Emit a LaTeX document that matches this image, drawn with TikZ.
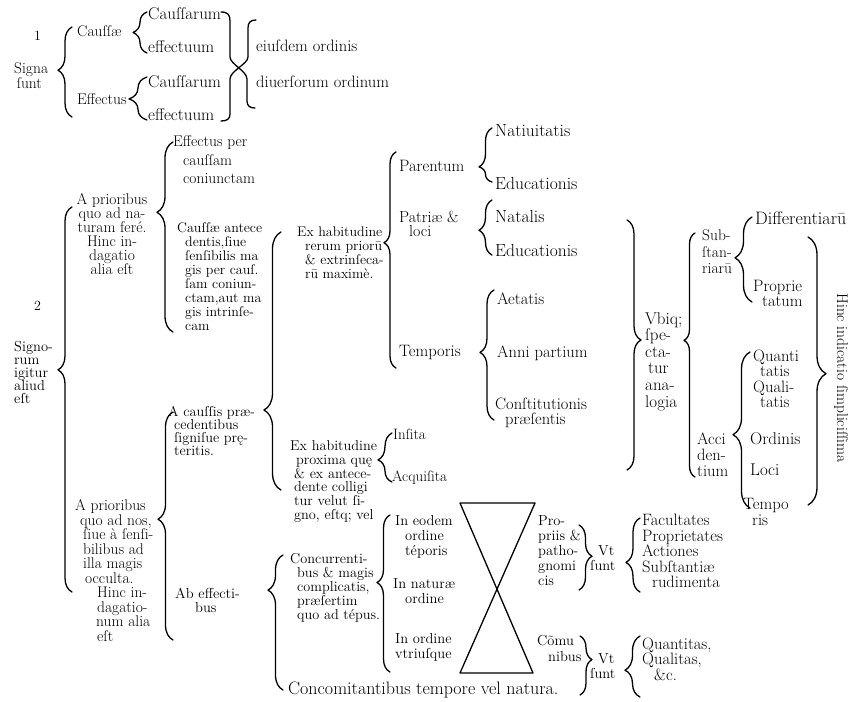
\documentclass[tikz,border=0pt]{standalone}
\usepackage{fontspec}
\usetikzlibrary{decorations.pathreplacing}
\newcommand\inkfont{\addfontfeature{FakeBold=6}}
\lineskiplimit=-100pt
\tikzset{
  lbl/.style 2 args={inner sep=0pt, anchor=north west, align=left,
    font=\fontsize{#1}{#2}\selectfont\inkfont, yshift={0.468*#1}},
  ink/.style={line width=1.3pt},
  brc/.style 2 args={decorate, decoration={brace, amplitude=#1pt, aspect=#2}},
  every picture/.style={line cap=round, line join=round}
}

\begin{document}
\begin{tikzpicture}[x=1pt, y=-1pt]
    \path[use as bounding box, fill=white] (0,0) rectangle (861,701);

    % signa sunt
    \node[lbl={14}{14}] (one) at (34,38) {1};
    \node[lbl={15.5}{15}] (signa) at (14,70) {Signa\\\,ſunt};
    \node[lbl={15.5}{15}] (cae) at (77,33) {Cauſſæ};
    \node[lbl={15.5}{15}] (eff) at (77,101) {Effectus};
    \node[lbl={17}{15}] (ca1) at (148,15) {Cauſſarum};
    \node[lbl={17}{15}] (ef1) at (148,48) {effectuum};
    \node[lbl={17}{15}] (ca2) at (148,83) {Cauſſarum};
    \node[lbl={17}{15}] (ef2) at (148,116) {effectuum};
    \node[lbl={16.5}{15}] (eiu) at (256,47) {eiuſdem ordinis};
    \node[lbl={16.5}{15}] (diu) at (256,83) {diuerſorum ordinum};

    \draw[ink,brc={14}{0.52}] (72,117) -- (72,27);
    \draw[ink,brc={14}{0.5}] (147,53) -- (147,12);
    \draw[ink,brc={18}{0.49}] (147,120) -- (147,77);

    \draw[ink] (221,12) .. controls (228,12) and (230,15) .. (230,21) -- (230,57)
      .. controls (230,64) and (247,71) .. (247,79) -- (247,101)
      .. controls (247,106) and (250,108) .. (255,108);
    \draw[ink] (256,20) .. controls (250,20) and (248,23) .. (248,28) -- (248,57)
      .. controls (248,64) and (230,71) .. (230,79) -- (230,114)
      .. controls (230,119) and (227,121) .. (221,121);

    % signorum igitur
    \node[lbl={14}{14}] (two) at (34,308) {2};
    \node[lbl={14.5}{13}] (sig2) at (14,348) {Signo-\\rum\\igitur\\aliud\\eſt};
    \draw[ink,brc={14}{0.577}] (72,592) -- (72,207);

    \node[lbl={15.5}{14},anchor=north,align=center] (pr1) at (112,201)
      {A prioribus\\quo ad na-\\turam feré.\\Hinc in-\\dagatio\\alia eſt};
    \draw[ink,brc={16}{0.63}] (173,332) -- (173,142);

    \node[lbl={15.5}{18.5}] (ep) at (173,143)
      {Effectus per\\\hspace*{10pt}cauſſam\\\hspace*{10pt}coniunctam};
    \node[lbl={14}{14}] (ca) at (177,229)
      {Cauſſæ antece\\\hspace*{8pt}dentis,ſiue\\\hspace*{8pt}ſenſibilis ma\\\hspace*{8pt}gis per cauſ.\\\hspace*{8pt}ſam coniun-\\\hspace*{8pt}ctam,aut ma\\\hspace*{8pt}gis intrinſe-\\\hspace*{8pt}cam};

    \draw[ink,brc={17}{0.31}] (281,490) -- (281,232);
    \node[lbl={14}{14}] (ex1) at (297,233)
      {Ex habitudine\\\hspace*{8pt}rerum priorū\\\hspace*{8pt}\& extrinſeca-\\\hspace*{8pt}rū maximè.};
    \draw[ink,brc={12}{0.58}] (396,368) -- (396,152);

    \node[lbl={16.5}{14.5}] (par) at (399,168) {Parentum};
    \node[lbl={16}{14.5}] (pat) at (399,218) {Patriæ \&\\\hspace*{10pt}loci};
    \node[lbl={16.5}{14.5}] (tem) at (399,353) {Temporis};

    \draw[ink,brc={13}{0.28}] (492,182) -- (492,128);
    \node[lbl={17.5}{15}] (nat) at (495,133) {Natiuitatis};
    \node[lbl={17.5}{15}] (edu1) at (495,185) {Educationis};
    \draw[ink,brc={13}{0.45}] (492,255) -- (492,200);
    \node[lbl={17.5}{15}] (nal) at (495,218) {Natalis};
    \node[lbl={17.5}{15}] (edu2) at (495,252) {Educationis};
    \draw[ink,brc={14}{0.52}] (494,420) -- (494,290);
    \node[lbl={16.5}{15}] (aet) at (497,300) {Aetatis};
    \node[lbl={16.5}{15}] (ann) at (497,353) {Anni partium};
    \node[lbl={16.5}{15}] (con) at (495,405) {Conſtitutionis\\\hspace*{10pt}præſentis};

    \node[lbl={14.3}{13}] (acp) at (168,413)
      {A cauſſis præ-\\\hspace*{6pt}cedentibus\\\hspace*{6pt}ſigniſue prę-\\\hspace*{6pt}teritis.};
    \node[lbl={15.5}{14.5}] (pr2) at (75,507)
      {A prioribus\\\hspace*{5pt}quo ad nos,\\\hspace*{8pt}ſiue à ſenſi-\\\hspace*{8pt}bilibus ad\\\hspace*{8pt}illa magis\\\hspace*{10pt}occulta.\\\hspace*{22pt}Hinc in-\\\hspace*{22pt}dagatio-\\\hspace*{21pt}num alia\\\hspace*{22pt}eſt};
    \draw[ink,brc={15}{0.53}] (173,640) -- (173,412);
    \node[lbl={14.5}{14}] (abe) at (175,595) {Ab effecti-\\\hspace*{20pt}bus};

    \node[lbl={14.3}{13.8}] (ex2) at (290,447)
      {Ex habitudine\\\hspace*{6pt}proxima quę\\\hspace*{4pt}\& ex antece-\\\hspace*{4pt}dente colligi\\\hspace*{4pt}tur velut ſi-\\\hspace*{4pt}gno, eſtq; vel};
    \draw[ink,brc={14}{0.45}] (392,482) -- (392,433);
    \node[lbl={15}{15}] (ins) at (393,436) {Inſita};
    \node[lbl={15}{15}] (acq) at (392,478) {Acquiſita};

    \node[lbl={14.3}{14}] (ccr) at (290,560)
      {Concurrenti-\\\hspace*{7pt}bus \& magis\\\hspace*{7pt}complicatis,\\\hspace*{7pt}præſertim\\\hspace*{7pt}quo ad tépus.};
    \draw[ink,brc={15}{0.74}] (283,690) -- (283,555);
    \node[lbl={18}{15}] (cmt) at (288,690) {Concomitantibus tempore vel natura.};

    \draw[ink,brc={13}{0.57}] (390,672) -- (390,515);
    \node[lbl={14.5}{15}] (ieo) at (395,522) {In eodem\\\hspace*{10pt}ordine\\\hspace*{10pt}téporis};
    \node[lbl={14.5}{15}] (ina) at (393,585) {In naturæ\\\hspace*{12pt}ordine};
    \node[lbl={14.5}{15}] (ior) at (395,640) {In ordine\\vtriuſque};

    \coordinate (hg1) at (460,503);
    \coordinate (hg2) at (535,503);
    \coordinate (hg3) at (460,673);
    \coordinate (hg4) at (533,673);
    \draw[ink] (hg1) -- (hg2) -- (hg3) -- (hg4) -- cycle;

    \node[lbl={14.5}{15}] (pro) at (538,522) {Pro-\\priis \&\\patho-\\gnomi\\cis};
    \draw[ink,brc={13}{0.48}] (579,525) -- (579,590);
    \node[lbl={14.5}{15}] (vt1) at (590,552) {\hspace*{8pt}Vt\\ſunt};
    \draw[ink,brc={14}{0.4}] (640,592) -- (640,518);
    \node[lbl={16.5}{15.5}] (fac) at (642,522)
      {Facultates\\Proprietates\\Actiones\\Subſtantiæ\\\hspace*{10pt}rudimenta};

    \node[lbl={14.5}{15.5}] (com) at (537,642) {Cõmu\\\hspace*{11pt}nibus};
    \draw[ink,brc={12}{0.4}] (580,636) -- (580,695);
    \node[lbl={14.5}{15}] (vt2) at (590,660) {\hspace*{8pt}Vt\\ſunt};
    \draw[ink,brc={15}{0.44}] (640,697) -- (640,636);
    \node[lbl={16.5}{15.5}] (qua) at (642,645) {Quantitas,\\Qualitas,\\\hspace*{12pt}\&c.};

    % vbique spectatur analogia
    \draw[ink,brc={14}{0.48}] (627,220) -- (627,470);
    \node[lbl={17}{16.6}] (vbi) at (645,320) {Vbiq;\\ſpe-\\cta-\\\,tur\\ana-\\logia};
    \draw[ink,brc={11}{0.56}] (695,477) -- (695,233);
    \node[lbl={15.5}{16.5}] (sub) at (702,237) {Sub-\\ſtan-\\riarū};
    \draw[ink,brc={17}{0.52}] (752,302) -- (752,217);
    \node[lbl={18}{15}] (dif) at (755,220) {Differentiarū};
    \node[lbl={16.5}{15}] (prp) at (753,288) {Proprie\\\hspace*{9pt}tatum};

    \node[lbl={16.5}{16}] (acc) at (697,440) {Acci\\den-\\tium};
    \draw[ink,brc={17}{0.47}] (750,508) -- (750,352);
    \node[lbl={16.5}{15.5}] (qti) at (753,357) {Quanti\\\hspace*{7pt}tatis\\Quali-\\\hspace*{7pt}tatis};
    \node[lbl={17}{15}] (ord) at (750,440) {Ordinis};
    \node[lbl={17}{15}] (loc) at (750,472) {Loci};
    \node[lbl={16.5}{16}] (tpo) at (743,506) {Tempo\\\hspace*{9pt}ris};

    \draw[ink,brc={18}{0.51}] (808,237) -- (808,505);
    \node[font=\fontsize{15.5}{16}\selectfont\inkfont, rotate=-90, inner sep=0pt] (hin) at (841,378)
      {Hinc indicatio ſimpliciſſima};
  \end{tikzpicture}
\end{document}
